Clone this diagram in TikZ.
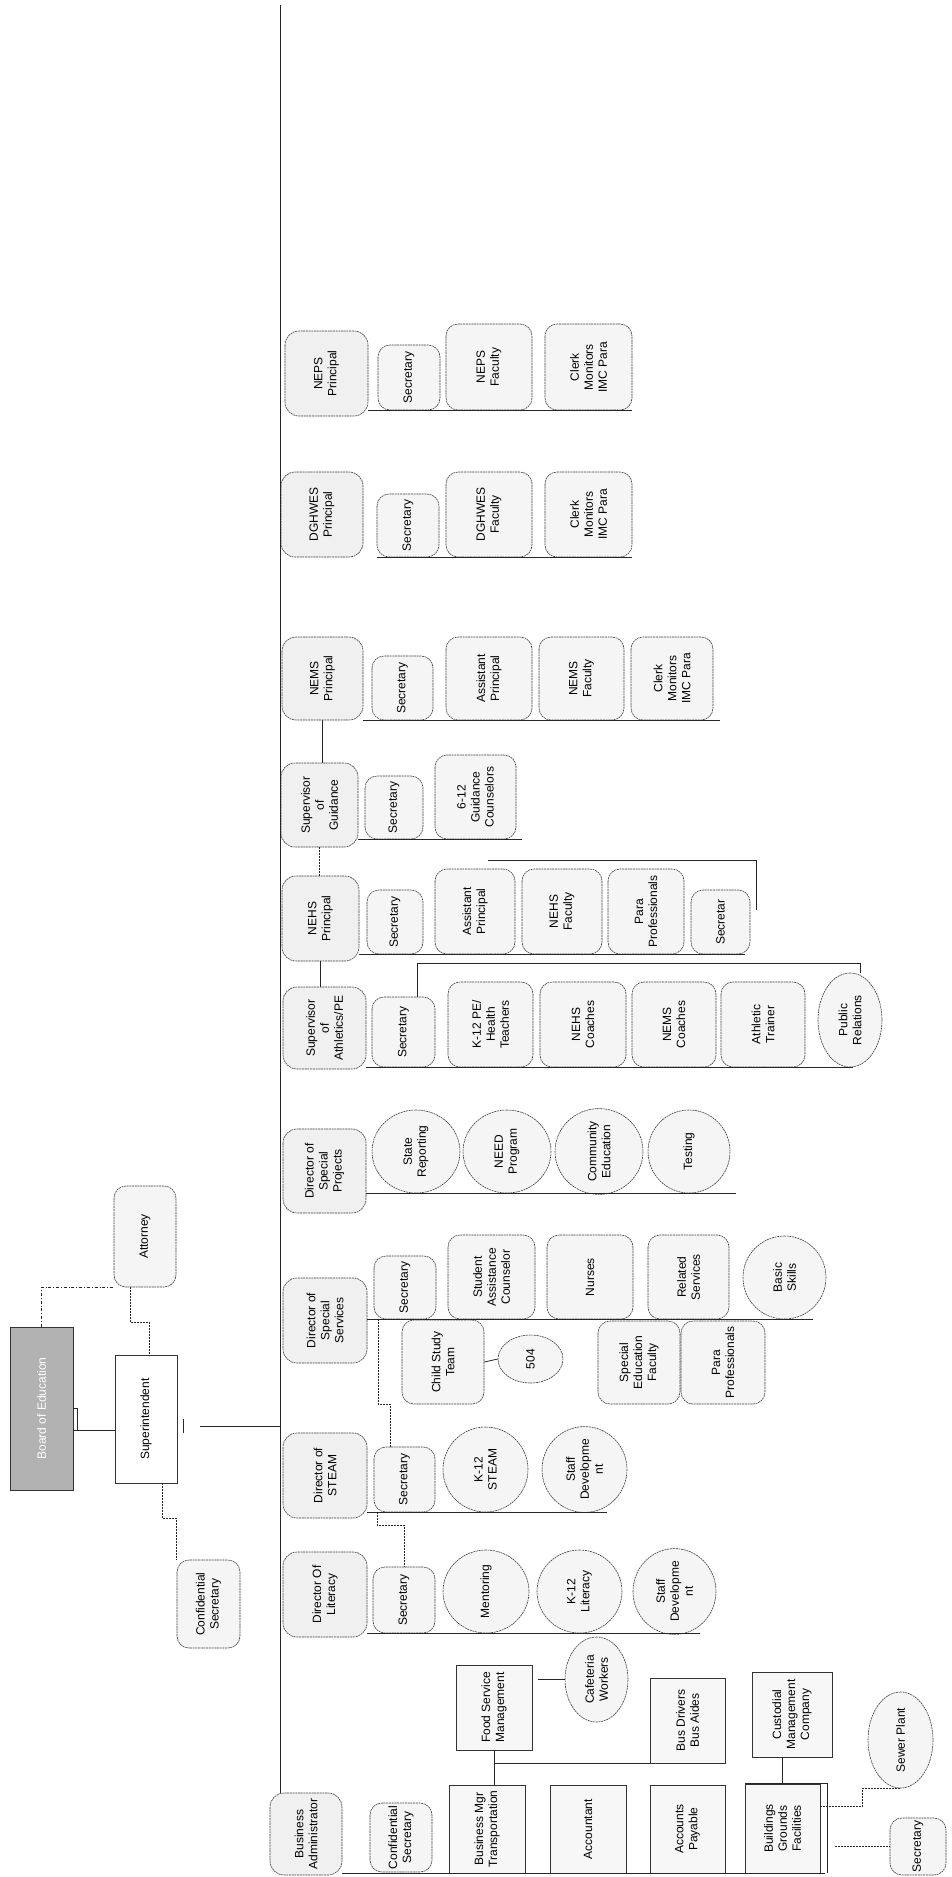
\documentclass[tikz,border=0pt]{standalone}
\usepackage{fontspec}
\setmainfont{Liberation Sans}
\usetikzlibrary{shapes.geometric}

\begin{document}
\begin{tikzpicture}[x=1pt, y=-1pt,
  font=\fontsize{12}{14}\selectfont,
  every node/.style={rotate=90, align=center, inner sep=1pt},
  sz/.style 2 args={minimum height=#1, minimum width=#2},
  head/.style={draw=black!75, line width=0.6pt, dash pattern=on 2pt off 0.7pt,
               rounded corners=14pt, fill=black!6},
  kid/.style={draw=black!75, line width=0.6pt, dash pattern=on 2pt off 0.7pt,
              rounded corners=12pt, fill=black!4},
  sq/.style={draw=black!80, line width=0.6pt, fill=black!3},
  oval/.style={ellipse, draw=black!75, line width=0.6pt,
               dash pattern=on 2pt off 0.7pt, fill=black!4, inner sep=0pt},
  link/.style={draw=black!85, line width=0.8pt},
  dlink/.style={draw=black!85, line width=0.7pt, dash pattern=on 2pt off 1pt}]
  \useasboundingbox (0,0) rectangle (951,1877);

  % board and superintendent
  \node[sq, sz={63}{163}, fill=black!30, text=white] (board) at (41.5,1408.5) {Board of Education};
  \node[sq, sz={62}{128}, fill=white] (supt) at (146,1419) {Superintendent};
  \node[kid, sz={62}{101}] (atty) at (145,1236.5) {Attorney};
  \node[kid, sz={63}{88}] (csec) at (208.5,1604) {Confidential\\Secretary};

  % heads along the spine
  \node[head, sz={83}{85}] (neps) at (326.5,373.5) {NEPS\\Principal};
  \node[head, sz={82}{85}] (dghwes) at (322,514.5) {DGHWES\\Principal};
  \node[head, sz={81}{83}] (nems) at (322.5,678.5) {NEMS\\Principal};
  \node[head, sz={77}{84}] (guid) at (319.5,805) {Supervisor\\of\\Guidance};
  \node[head, sz={77}{85}] (nehs) at (320.5,918.5) {NEHS\\Principal};
  \node[head, sz={83}{82}] (athl) at (324.5,1028) {Supervisor\\of\\Athletics/PE};
  \node[head, sz={83}{84}] (sproj) at (324.5,1171) {Director of\\Special\\Projects};
  \node[head, sz={84}{85}] (sserv) at (325,1320.5) {Director of\\Special\\Services};
  \node[head, sz={84}{85}] (steam) at (325,1475.5) {Director of\\STEAM};
  \node[head, sz={84}{85}] (lit) at (325,1594.5) {Director Of\\Literacy};
  \node[head, sz={72}{82}] (badm) at (306,1834) {Business\\Administrator};

  % NEPS
  \node[kid, sz={62}{65}] (nepsSec) at (409,377.5) {Secretary};
  \node[kid, sz={86}{86}] (nepsFac) at (489,367) {NEPS\\Faculty};
  \node[kid, sz={87}{86}] (nepsCl) at (588.5,367) {Clerk\\Monitors\\IMC Para};
  % DGHWES
  \node[kid, sz={62}{63}] (dgSec) at (408,525.5) {Secretary};
  \node[kid, sz={86}{85}] (dgFac) at (489,514.5) {DGHWES\\Faculty};
  \node[kid, sz={87}{85}] (dgCl) at (588.5,514.5) {Clerk\\Monitors\\IMC Para};
  % NEMS
  \node[kid, sz={61}{64}] (nemsSec) at (402.5,688) {Secretary};
  \node[kid, sz={86}{83}] (nemsAP) at (489,678.5) {Assistant\\Principal};
  \node[kid, sz={85}{83}] (nemsFac) at (581.5,678.5) {NEMS\\Faculty};
  \node[kid, sz={82}{83}] (nemsCl) at (672,678.5) {Clerk\\Monitors\\IMC Para};
  % guidance
  \node[kid, sz={58}{63}] (guSec) at (394,807.5) {Secretary};
  \node[kid, sz={81}{84}] (guCoun) at (475.5,797) {6-12\\Guidance\\Counselors};
  % NEHS
  \node[kid, sz={56}{64}] (nhSec) at (395,922) {Secretary};
  \node[kid, sz={80}{85}] (nhAP) at (475,911.5) {Assistant\\Principal};
  \node[kid, sz={80}{85}] (nhFac) at (562,911.5) {NEHS\\Faculty};
  \node[kid, sz={76}{85}] (nhPara) at (646,911.5) {Para\\Professionals};
  \node[kid, sz={59}{64}] (nhSec2) at (720.5,922) {Secretar};
  % athletics
  \node[kid, sz={63}{70}] (atSec) at (403.5,1032) {Secretary};
  \node[kid, sz={85}{85}] (atK12) at (490.5,1024.5) {K-12 PE/\\Health\\Teachers};
  \node[kid, sz={86}{85}] (atNehs) at (583,1024.5) {NEHS\\Coaches};
  \node[kid, sz={84}{85}] (atNems) at (674,1024.5) {NEMS\\Coaches};
  \node[kid, sz={84}{85}] (atTr) at (763,1024.5) {Athletic\\Trainer};
  \node[oval, sz={64}{94}] (atPR) at (850,1020) {Public\\Relations};
  % special projects
  \node[oval, sz={88}{83}] (spSR) at (416,1151.5) {State\\Reporting};
  \node[oval, sz={88}{83}] (spNP) at (507,1151.5) {NEED\\Program};
  \node[oval, sz={88}{83}] (spCE) at (599,1151.5) {Community\\Education};
  \node[oval, sz={82}{83}] (spTe) at (689,1151.5) {Testing};
  % special services
  \node[kid, sz={62}{63}] (ssSec) at (405,1287.5) {Secretary};
  \node[kid, sz={87}{84}] (ssSAC) at (491.5,1277) {Student\\Assistance\\Counselor};
  \node[kid, sz={86}{84}] (ssNur) at (590,1277) {Nurses};
  \node[kid, sz={81}{84}] (ssRS) at (688.5,1277) {Related\\Services};
  \node[oval, sz={83}{83}] (ssBS) at (784.5,1277.5) {Basic\\Skills};
  \node[kid, sz={82}{84}] (ssCST) at (443,1362) {Child Study\\Team};
  \node[oval, sz={65}{48}] (ss504) at (530.5,1359) {504};
  \node[kid, sz={82}{83}] (ssSEF) at (639,1362.5) {Special\\Education\\Faculty};
  \node[kid, sz={84}{83}] (ssPara) at (723,1362.5) {Para\\Professionals};
  % STEAM
  \node[kid, sz={61}{65}] (stSec) at (404.5,1479.5) {Secretary};
  \node[oval, sz={85}{85}] (stK12) at (485.5,1469.5) {K-12\\STEAM};
  \node[oval, sz={85}{85}] (stSD) at (584.5,1469.5) {Staff\\Developme\\nt};
  % literacy
  \node[kid, sz={62}{66}] (litSec) at (404,1600) {Secretary};
  \node[oval, sz={86}{83}] (litMen) at (486,1591.5) {Mentoring};
  \node[oval, sz={85}{83}] (litK12) at (579.5,1591.5) {K-12\\Literacy};
  \node[oval, sz={83}{83}] (litSD) at (674.5,1591.5) {Staff\\Developme\\nt};
  % business
  \node[kid, sz={62}{69}] (baCS) at (401,1837.5) {Confidential\\Secretary};
  \node[sq, sz={76}{88}] (baBM) at (487,1829) {Business Mgr\\Transportation};
  \node[sq, sz={76}{88}] (baAcc) at (588,1829) {Accountant};
  \node[sq, sz={75}{88}] (baAP) at (687.5,1829) {Accounts\\Payable};
  \node[sq, sz={75}{89}] (baBG) at (782.5,1828.5) {Buildings\\Grounds\\Facilities};
  \node[sq, sz={76}{85}] (baFS) at (494,1707.5) {Food Service\\Management};
  \node[oval, sz={63}{85}] (baCW) at (596.5,1679.5) {Cafeteria\\Workers};
  \node[sq, sz={75}{85}] (baBD) at (687.5,1720.5) {Bus Drivers\\Bus Aides};
  \node[sq, sz={80}{85}] (baCM) at (792,1714.5) {Custodial\\Management\\Company};
  \node[oval, sz={65}{96}] (baSP) at (900.5,1740) {Sewer Plant};
  \node[kid, sz={56}{57}] (baSec) at (918,1846.5) {Secretary};

  % spine
  \coordinate (sTop) at (280,5);
  \draw[link] (sTop) -- (sTop |- badm.east);

  % top left links
  \draw[link] ([yshift=-22pt]board.south) -- ([yshift=-22pt]board.south -| supt.north);
  \draw[link] (board.south) -- ++(4,0) -- ++(0,22);
  \draw[link] ([xshift=6pt]supt.south) -- ++(0,14);
  \draw[link] ([xshift=23pt,yshift=-7pt]supt.south) -- ([yshift=-7pt]supt.south -| sTop);
  \draw[draw=black!85, line width=0.7pt, dashdotted] (board.east) |- (atty.north west);
  \draw[dlink] ([xshift=-15pt]atty.west) -- ++(0,35) -| ([xshift=3pt]supt.east);
  \draw[dlink] ([xshift=16pt]supt.west) -- ++(0,35) -| (csec.north east);

  % rows
  \draw[link] (neps.south |- nepsSec.west) -- (nepsCl.south west);
  \draw[link] (dgSec.north west) -- (dgCl.south west);
  \draw[link] (nems.south |- nemsSec.west) -- ([xshift=7pt]nemsCl.south west);
  \draw[link] (nems.west) -- (nems.west |- guid.east);
  \draw[link] (guid.south |- guSec.west) -- ([xshift=6pt]guCoun.south west);
  \draw[dlink] (guid.west) -- (guid.west |- nehs.east);
  \draw[link] (nehs.south |- nhAP.west) -- ([xshift=-5pt]nhSec2.south west);
  \coordinate (nhBr) at (488,860);
  \draw[link] (nhBr) -| ([xshift=6pt,yshift=12pt]nhSec2.south);
  \draw[link] (nehs.west) -- (nehs.west |- athl.east);
  \draw[link] (athl.south |- atK12.west) -- ([xshift=3pt]atPR.west);
  \coordinate (atBr) at (860,963);
  \draw[link] ([xshift=14pt]atSec.east) |- (atBr) -- (atBr |- atPR.east);
  \draw[link] (sproj.south |- spSR.west) -- ([xshift=6pt]spTe.south |- spTe.west);
  \draw[link] (sserv.south |- ssSec.west) -- ([xshift=-13pt]ssBS.south |- ssSec.west);
  \draw[link] (ssCST.south) -- (ss504.north);
  \draw[dlink] ([xshift=-27pt]ssSec.west) -- ++(0,85) -| ([xshift=-14.5pt]stSec.east);
  \draw[link] (steam.south |- stSec.west) -- ([xshift=-20pt]stSD.south |- stSec.west);
  \draw[dlink] ([xshift=-27.5pt]stSec.west) -- ++(0,13) -| (litSec.east);
  \draw[link] (lit.south |- litSec.west) -- ([xshift=-16pt]litSD.south |- litSec.west);

  % business rows
  \draw[link] (badm.south |- baBM.west) -- ([xshift=5pt]baBG.south west);
  \draw[link] (baFS.west) -- (baFS.west |- baBM.east);
  \draw[link] (baFS.west |- baBD.north west) -- (baBD.north west);
  \draw[link] ([xshift=6pt]baFS.south |- baCW.north) -- (baCW.north);
  \draw[link] (baBG.east) -- (baBG.east |- baCM.west);
  \draw[link] (baBG.north east) -| ([xshift=7pt]baBG.south west);
  \draw[dlink] ([yshift=22pt]baBG.south) -- ++(42,0) |- (baSP.west);
  \draw[dlink] ([xshift=15pt]baBG.south |- baSec.north) -- (baSec.north);
\end{tikzpicture}
\end{document}
